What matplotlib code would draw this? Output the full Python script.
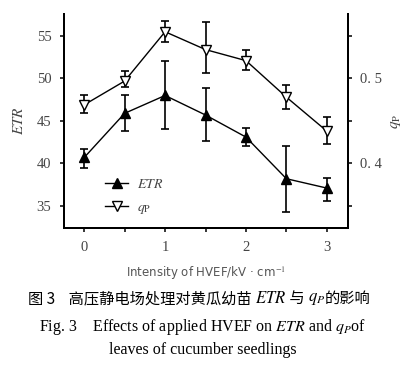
import matplotlib
matplotlib.use('Agg')
import matplotlib.pyplot as plt
from matplotlib.lines import Line2D
import numpy as np

# 数据
hvef = [0, 0.5, 1, 1.5, 2, 2.5, 3]
etr = [40.7, 45.9, 48.0, 45.7, 43.1, 38.2, 37.1]
etr_lo = [39.5, 43.8, 44.0, 42.6, 42.0, 34.3, 35.6]
etr_hi = [41.7, 48.0, 52.0, 48.9, 44.2, 42.0, 38.3]
qp = [0.469, 0.497, 0.555, 0.534, 0.521, 0.478, 0.438]
qp_lo = [0.459, 0.490, 0.543, 0.506, 0.510, 0.464, 0.423]
qp_hi = [0.480, 0.509, 0.568, 0.566, 0.534, 0.492, 0.455]

plt.rcParams['font.family'] = ['Liberation Serif', 'DejaVu Serif']
plt.rcParams['mathtext.fontset'] = 'stix'

fig = plt.figure(figsize=(4.05, 3.66), dpi=100)
ax = fig.add_axes([0.158, 0.377, 0.701, 0.585])
ax2 = ax.twinx()

etr = np.array(etr)
qp = np.array(qp)
e_err = [etr - np.array(etr_lo), np.array(etr_hi) - etr]
q_err = [qp - np.array(qp_lo), np.array(qp_hi) - qp]

ax.errorbar(hvef, etr, yerr=e_err, color='black', lw=1, marker='^', ms=7,
            mfc='black', capsize=3, elinewidth=1.2, capthick=1.2)
ax2.errorbar(hvef, qp, yerr=q_err, color='black', lw=1, marker='v', ms=7.5,
             mfc='white', capsize=3, elinewidth=1.2, capthick=1.2, zorder=3)

ax.set_xlim(-0.25, 3.26)
ax.set_ylim(32.4, 57.6)
ax2.set_ylim(0.324, 0.576)
ax.set_xticks([0, 1, 2, 3])
ax.set_xticks([0.5, 1.5, 2.5], minor=True)
ax.set_yticks([35, 40, 45, 50, 55])
ax2.set_yticks([0.4, 0.5])
ax2.set_yticklabels(['0. 4', '0. 5'])
ax2.set_yticks([0.35, 0.45, 0.55], minor=True)

for a in (ax, ax2):
    a.spines['top'].set_visible(False)
    for s in ('left', 'right', 'bottom'):
        a.spines[s].set_linewidth(1.4)
    a.tick_params(direction='out', length=3, width=1.1, labelsize=10.5,
                  labelcolor='#444444', pad=6)
    a.tick_params(which='minor', direction='out', length=3, width=1.1)

ax.set_ylabel('$ETR$', fontsize=11, color='#444444', labelpad=8)
ax2.set_ylabel('$q_\\mathrm{P}$', fontsize=11, color='#444444', rotation=90, labelpad=5)
ax.set_xlabel('Intensity of HVEF/kV · cm$^{-1}$', fontsize=8.5, color='#555555',
              labelpad=8, family='DejaVu Sans')

handles = [
    Line2D([], [], color='black', lw=1, marker='^', ms=7, mfc='black'),
    Line2D([], [], color='black', lw=1, marker='v', ms=7.5, mfc='white'),
]
leg = ax.legend(handles, ['$ETR$', '$q_\\mathrm{P}$'], loc='lower left',
                bbox_to_anchor=(0.1, 0.0), frameon=False, fontsize=10,
                handlelength=1.7, labelspacing=0.7, handletextpad=0.6)
for t in leg.get_texts():
    t.set_color('#444444')

# 图注
cjk = ['Noto Sans CJK SC', 'DejaVu Sans']
t1 = fig.text(0.068, 0.172, '图 3    高压静电场处理对黄瓜幼苗 ', fontsize=11, family=cjk,
              va='baseline')
t2 = ax.annotate('$ETR$', xy=(1, 0), xycoords=t1, fontsize=12, va='bottom')
t3 = ax.annotate(' 与 ', xy=(1, 0), xycoords=t2, fontsize=11, family=cjk, va='bottom')
t4 = ax.annotate('$q_P$', xy=(1, 0), xycoords=t3, fontsize=12, va='bottom')
t5 = ax.annotate('的影响', xy=(1, 0), xycoords=t4, fontsize=11, family=cjk, va='bottom')

fig.text(0.5, 0.095, 'Fig. 3    Effects of applied HVEF on $ETR$ and $q_P$of',
         fontsize=11.5, ha='center')
fig.text(0.5, 0.032, 'leaves of cucumber seedlings', fontsize=11.5, ha='center')

fig.savefig('out.png', dpi=100)
